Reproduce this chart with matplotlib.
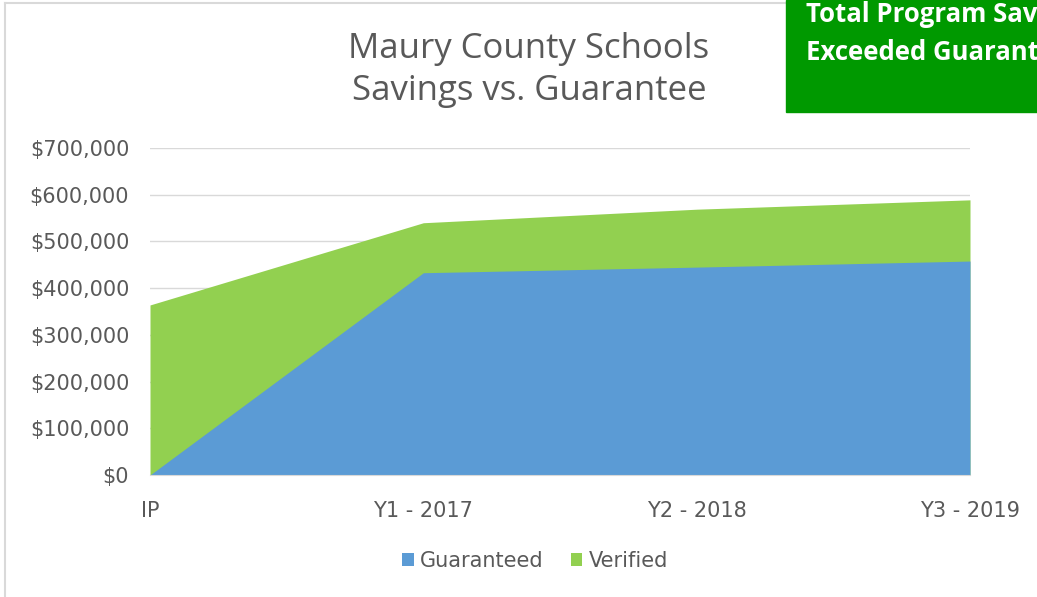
import matplotlib.pyplot as plt
from matplotlib.patches import Rectangle
from matplotlib.ticker import FuncFormatter

plt.rcParams['font.family'] = ['DejaVu Sans']

years = ['IP', 'Y1 - 2017', 'Y2 - 2018', 'Y3 - 2019']
guaranteed = [0, 433000, 445000, 458000]
verified = [364000, 540000, 569000, 589000]

gray = '#595959'
fig = plt.figure(figsize=(10.37, 5.97), dpi=100)
ax = fig.add_axes([150 / 1037, 1 - 475 / 597, 820 / 1037, 327 / 597])

x = range(len(years))
ax.fill_between(x, verified, color='#92D050', linewidth=0, label='Verified')
ax.fill_between(x, guaranteed, color='#5B9BD5', linewidth=0, label='Guaranteed')

ax.set_xlim(0, len(years) - 1)
ax.set_ylim(0, 700000)
ax.set_yticks(range(0, 700001, 100000))
ax.yaxis.set_major_formatter(FuncFormatter(lambda v, p: '${:,.0f}'.format(v)))
ax.set_xticks(list(x))
ax.set_xticklabels(years)
ax.grid(axis='y', color='#d9d9d9', linewidth=1)
ax.set_axisbelow(True)
for s in ['top', 'right', 'left']:
    ax.spines[s].set_visible(False)
ax.spines['bottom'].set_color('#d9d9d9')
ax.tick_params(length=0, labelsize=15, colors=gray)
ax.tick_params(axis='y', pad=15)
ax.tick_params(axis='x', pad=19)

fig.text(529 / 1037, 1 - 70 / 597, 'Maury County Schools\nSavings vs. Guarantee',
         ha='center', va='center', fontsize=25, color=gray, linespacing=1.3,
         family='Open Sans')

h, l = ax.get_legend_handles_labels()
fig.legend(h[::-1], l[::-1], loc='center', bbox_to_anchor=(535 / 1037, 1 - 561 / 597),
           ncol=2, frameon=False, fontsize=15, labelcolor=gray,
           handlelength=0.55, handleheight=0.55, handletextpad=0.3, columnspacing=1.3)

# chart border
fig.add_artist(plt.Line2D([5 / 1037, 5 / 1037], [0, 1 - 3 / 597], color='#d9d9d9', lw=1.5))
fig.add_artist(plt.Line2D([5 / 1037, 786 / 1037], [1 - 3 / 597, 1 - 3 / 597], color='#d9d9d9', lw=1.5))

# green callout box (text runs past the right edge, as in the source)
box = Rectangle((786 / 1037, 1 - 112 / 597), 251 / 1037, 112 / 597,
                transform=fig.transFigure, color='#009900', zorder=5)
fig.add_artist(box)
for i, line in enumerate(['Total Program Savings', 'Exceeded Guarantee']):
    t = fig.text(806 / 1037, 1 - (22 + 38 * i) / 597, line, ha='left', va='baseline',
                 fontsize=18.5, fontweight='bold', color='white', zorder=6,
                 family='Open Sans')
    t.set_clip_path(box)

fig.savefig('out.png', dpi=100)
